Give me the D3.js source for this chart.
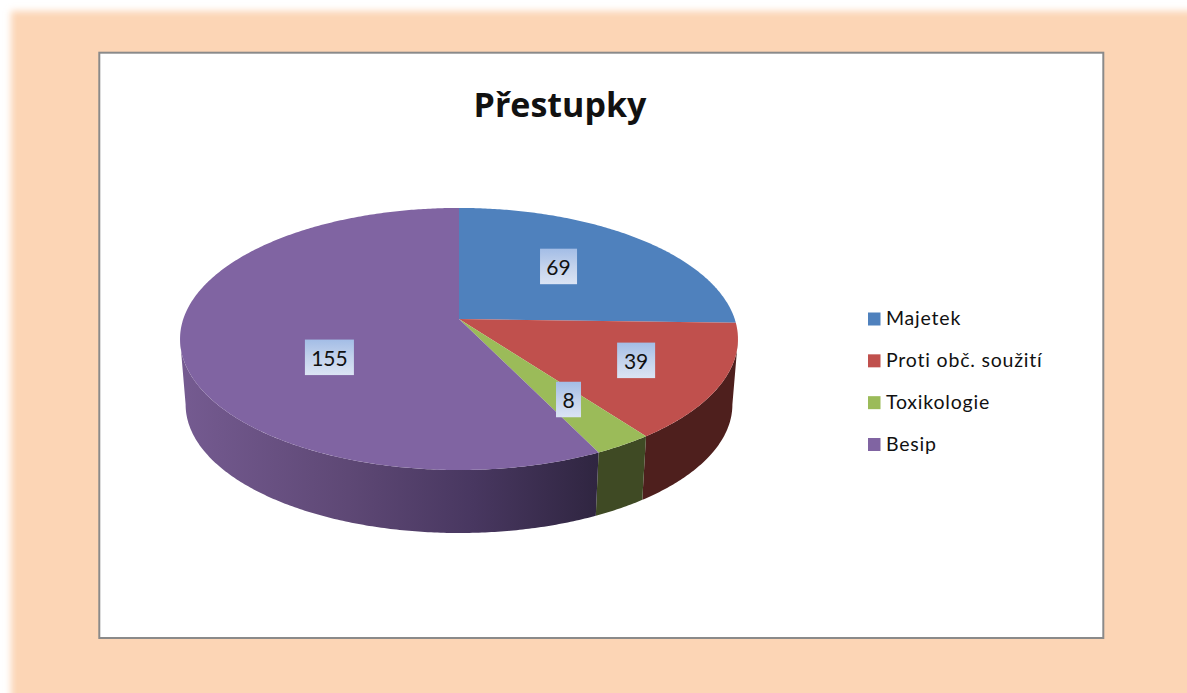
<!doctype html>
<html>
<head>
<meta charset="utf-8">
<title>Přestupky</title>
<script src="https://cdn.jsdelivr.net/npm/d3@7"></script>
<style>
  html, body { margin: 0; padding: 0; background: #fff; overflow: hidden; }
  svg { display: block; }
  text { font-family: Lato, "Open Sans", sans-serif; fill: #111; }
</style>
</head>
<body>
<script>
// DATA
var categories = ["Majetek", "Proti obč. soužití", "Toxikologie", "Besip"];
var values = [69, 39, 8, 155];
var chartTitle = "Přestupky";

var topColors = ["#4f81bd", "#c0504d", "#9bbb59", "#8064a2"];
var wallColors = ["#2b4768", "#4e1f1d", "#3f4a24", "url(#purpleWall)"];

var w = 1187, h = 693;

var svg = d3.select("body").append("svg").attr("width", w).attr("height", h);
var defs = svg.append("defs");

// soft edge of the peach panel
defs.append("filter").attr("id", "soft")
  .attr("x", "-5%").attr("y", "-5%").attr("width", "110%").attr("height", "110%")
  .append("feGaussianBlur").attr("stdDeviation", 3.5);

// side of the big slice darkens to the right
var purpleGrad = defs.append("linearGradient").attr("id", "purpleWall")
  .attr("gradientUnits", "userSpaceOnUse")
  .attr("x1", 180).attr("x2", 600).attr("y1", 0).attr("y2", 0);
[[0, "#755b91"], [0.4, "#5e4875"], [0.7, "#483760"], [1, "#2f2540"]].forEach(function (s) {
  purpleGrad.append("stop").attr("offset", s[0]).attr("stop-color", s[1]);
});

var labelGrad = defs.append("linearGradient").attr("id", "labelBox")
  .attr("x1", 0).attr("x2", 0).attr("y1", 0).attr("y2", 1);
[[0, "#a3bde6"], [0.5, "#c3d2ec"], [1, "#dbe4f4"]].forEach(function (s) {
  labelGrad.append("stop").attr("offset", s[0]).attr("stop-color", s[1]);
});

// BACKGROUND + FRAME
svg.append("rect").attr("x", 11).attr("y", 11).attr("width", 1240).attr("height", 760)
  .attr("fill", "#fcd5b5").attr("filter", "url(#soft)");
svg.append("rect").attr("x", 99.3).attr("y", 52.7).attr("width", 1004).attr("height", 585.3)
  .attr("fill", "#fff").attr("stroke", "#8a8a8a").attr("stroke-width", 2);

svg.append("text").attr("x", 560).attr("y", 117)
  .attr("text-anchor", "middle").attr("font-size", 34).attr("font-weight", 700)
  .style("font-family", "'Open Sans', sans-serif")
  .text(chartTitle);

// PIE IN PERSPECTIVE
var persp = 0.1525;
var x = d3.scaleLinear().domain([-1, 1]).range([459 - 275.7, 459 + 275.7]);
var y = d3.scaleLinear().domain([-1, 1]).range([319 - 128, 319 + 128]);

var depthDrop = 66, depthShrink = 0.98;

function project(angle, r) {
  var u = r * Math.sin(angle), v = -r * Math.cos(angle);
  var s = 1 / (1 - persp * v);
  return [x(u * s), y(v * s)];
}
function projectBase(angle) {
  var p = project(angle, 1);
  return [x(0) + (p[0] - x(0)) * depthShrink, y(0) + (p[1] - y(0)) * depthShrink + depthDrop];
}

var pie = d3.pie().sort(null).value(function (d) { return d; });
var arcs = pie(values);

function arcAngles(a0, a1) {
  var n = Math.max(2, Math.ceil((a1 - a0) / 0.01));
  return d3.range(n + 1).map(function (i) {
    return a0 + (a1 - a0) * i / n;
  });
}

var line = d3.line();

// only the front of the rim is drawn, from one side extreme of the ellipse to the other
var rimStart = Math.acos(-persp), rimEnd = 2 * Math.PI - rimStart;

svg.append("g").selectAll("path").data(arcs).enter().append("path")
  .attr("d", function (d) {
    var a0 = Math.max(d.startAngle, rimStart), a1 = Math.min(d.endAngle, rimEnd);
    if (a1 <= a0) return null;
    var a = arcAngles(a0, a1);
    return line(a.map(function (t) { return project(t, 1); })
      .concat(a.slice().reverse().map(projectBase))) + "Z";
  })
  .attr("fill", function (d, i) { return wallColors[i]; });

svg.append("g").selectAll("path").data(arcs).enter().append("path")
  .attr("d", function (d) {
    var rim = arcAngles(d.startAngle, d.endAngle).map(function (t) { return project(t, 1); });
    return line([project(0, 0)].concat(rim)) + "Z";
  })
  .attr("fill", function (d, i) { return topColors[i]; });

// DATA LABELS
var labelNudge = [[-12, -2], [24, 4.5], [16.5, 9.5], [35, 21]];
var labelBoxW = [37, 38, 25, 49];

var labels = svg.append("g").selectAll("g").data(arcs).enter().append("g")
  .attr("transform", function (d, i) {
    var p = project((d.startAngle + d.endAngle) / 2, 0.6);
    return "translate(" + (p[0] + labelNudge[i][0]) + "," + (p[1] + labelNudge[i][1]) + ")";
  });
labels.append("rect")
  .attr("x", function (d, i) { return -labelBoxW[i] / 2; }).attr("y", -18)
  .attr("width", function (d, i) { return labelBoxW[i]; }).attr("height", 35.5)
  .attr("fill", "url(#labelBox)");
labels.append("text").attr("text-anchor", "middle").attr("y", 8)
  .attr("font-size", 21)
  .text(function (d) { return d.value; });

// LEGEND
var legendY = d3.scalePoint().domain(categories).range([319, 444.5]);

var legend = svg.append("g").selectAll("g").data(categories).enter().append("g")
  .attr("transform", function (d) { return "translate(868," + legendY(d) + ")"; });
legend.append("rect").attr("x", 0).attr("y", -6.5).attr("width", 12.5).attr("height", 13)
  .attr("fill", function (d, i) { return topColors[i]; });
legend.append("text").attr("x", 18).attr("y", 6)
  .attr("font-size", 19.5).attr("letter-spacing", 0.8)
  .text(function (d) { return d; });
</script>
</body>
</html>
